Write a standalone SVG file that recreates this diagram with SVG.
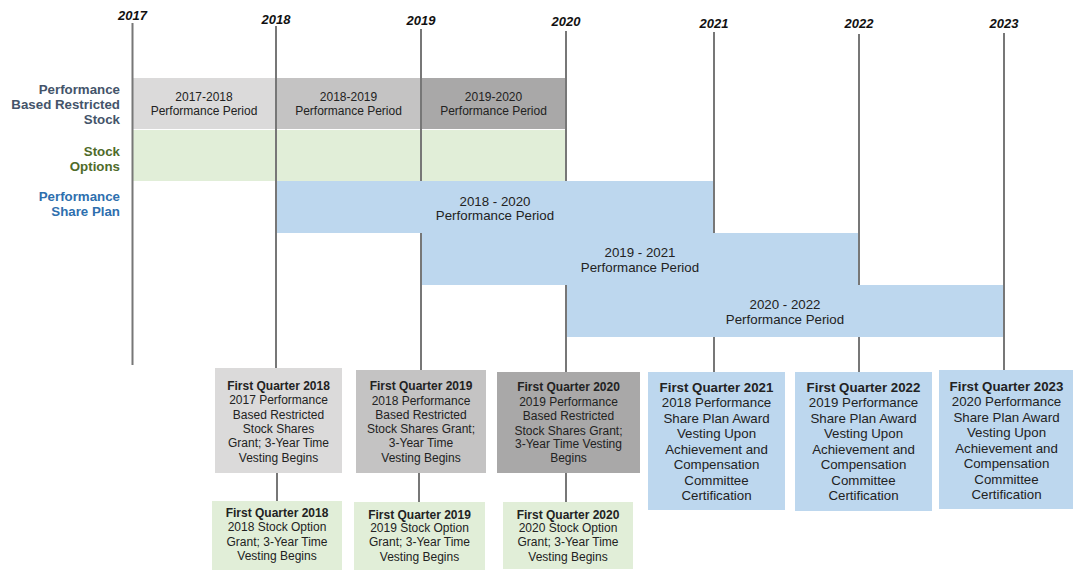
<svg xmlns="http://www.w3.org/2000/svg" width="1073" height="572" viewBox="0 0 1073 572">
<style>
text{font-family:"Liberation Sans",Arial,sans-serif;fill:#222;}
.yr{font-size:13px;font-weight:bold;font-style:italic;text-anchor:middle;fill:#111;}
.lbl{font-size:13.3px;font-weight:bold;text-anchor:end;}
.bar{font-size:12px;text-anchor:middle;}
.bbar{font-size:13.3px;text-anchor:middle;}
.box{font-size:12px;text-anchor:middle;}
.bbox{font-size:13.3px;text-anchor:middle;}
.b{font-weight:bold;}
.g1{fill:#dbdada;}
.g2{fill:#c4c3c3;}
.g3{fill:#a9a8a8;}
.gr{fill:#e1eed8;}
.bl{fill:#bdd7ee;}
.ln{stroke:#777;stroke-width:2;fill:none;}
</style>

<g id="years">
<text class="yr" x="132.5" y="20">2017</text>
<text class="yr" x="276" y="24">2018</text>
<text class="yr" x="421" y="25">2019</text>
<text class="yr" x="566" y="25.5">2020</text>
<text class="yr" x="714" y="27.5">2021</text>
<text class="yr" x="859" y="27.5">2022</text>
<text class="yr" x="1004" y="27.5">2023</text>
</g>

<g id="row-labels">
<text class="lbl" x="120" y="94" style="fill:#44546a">Performance</text>
<text class="lbl" x="120" y="109" style="fill:#44546a">Based Restricted</text>
<text class="lbl" x="120" y="124" style="fill:#44546a">Stock</text>
<text class="lbl" x="120" y="155.5" style="fill:#4f6b2a">Stock</text>
<text class="lbl" x="120" y="170.5" style="fill:#4f6b2a">Options</text>
<text class="lbl" x="120" y="201" style="fill:#2e6fae">Performance</text>
<text class="lbl" x="120" y="216" style="fill:#2e6fae">Share Plan</text>
</g>

<g id="bar-2017-2018">
<rect class="g1" x="132" y="78" width="144" height="51"/>
<text class="bar" x="204" y="101">2017-2018</text>
<text class="bar" x="204" y="114.5">Performance Period</text>
</g>
<g id="bar-2018-2019">
<rect class="g2" x="276" y="78" width="145" height="51"/>
<text class="bar" x="348.5" y="101">2018-2019</text>
<text class="bar" x="348.5" y="114.5">Performance Period</text>
</g>
<g id="bar-2019-2020">
<rect class="g3" x="421" y="78" width="145" height="51"/>
<text class="bar" x="493.5" y="101">2019-2020</text>
<text class="bar" x="493.5" y="114.5">Performance Period</text>
</g>
<g id="bar-stock-options">
<rect class="gr" x="132" y="130" width="434" height="51"/>
</g>

<g id="connectors">
<line class="ln" x1="132.5" y1="23" x2="132.5" y2="365"/>
<line class="ln" x1="276" y1="26" x2="276" y2="368"/>
<line class="ln" x1="421" y1="29" x2="421" y2="370"/>
<line class="ln" x1="566" y1="31" x2="566" y2="372"/>
<line class="ln" x1="714" y1="32" x2="714" y2="372"/>
<line class="ln" x1="859" y1="34" x2="859" y2="372"/>
<line class="ln" x1="1004" y1="33" x2="1004" y2="370"/>
<line class="ln" x1="277" y1="473" x2="277" y2="501"/>
<line class="ln" x1="419" y1="473" x2="419" y2="502"/>
<line class="ln" x1="566" y1="472" x2="566" y2="502"/>
</g>

<g id="bar-psp-2018-2020">
<rect class="bl" x="277" y="181" width="436" height="52"/>
<text class="bbar" x="495" y="205.5">2018 - 2020</text>
<text class="bbar" x="495" y="220">Performance Period</text>
</g>
<g id="bar-psp-2019-2021">
<rect class="bl" x="422" y="233" width="436" height="52"/>
<text class="bbar" x="640" y="257">2019 - 2021</text>
<text class="bbar" x="640" y="272">Performance Period</text>
</g>
<g id="bar-psp-2020-2022">
<rect class="bl" x="567" y="285" width="436" height="52"/>
<text class="bbar" x="785" y="309">2020 - 2022</text>
<text class="bbar" x="785" y="324">Performance Period</text>
</g>

<g id="box-pbrs-2018">
<rect class="g1" x="215" y="368" width="127" height="105"/>
<text class="box" x="278.5" y="389.5"><tspan class="b">First Quarter 2018</tspan><tspan x="278.5" y="404">2017 Performance</tspan><tspan x="278.5" y="418.5">Based Restricted</tspan><tspan x="278.5" y="433">Stock Shares</tspan><tspan x="278.5" y="447">Grant; 3-Year Time</tspan><tspan x="278.5" y="461.5">Vesting Begins</tspan></text>
</g>
<g id="box-pbrs-2019">
<rect class="g2" x="356" y="370" width="130" height="103"/>
<text class="box" x="421" y="390"><tspan class="b">First Quarter 2019</tspan><tspan x="421" y="404.5">2018 Performance</tspan><tspan x="421" y="418.5">Based Restricted</tspan><tspan x="421" y="433">Stock Shares Grant;</tspan><tspan x="421" y="447">3-Year Time</tspan><tspan x="421" y="461.5">Vesting Begins</tspan></text>
</g>
<g id="box-pbrs-2020">
<rect class="g3" x="497" y="372" width="143" height="101"/>
<text class="box" x="568.5" y="391"><tspan class="b">First Quarter 2020</tspan><tspan x="568.5" y="406">2019 Performance</tspan><tspan x="568.5" y="420">Based Restricted</tspan><tspan x="568.5" y="434.5">Stock Shares Grant;</tspan><tspan x="568.5" y="448">3-Year Time Vesting</tspan><tspan x="568.5" y="462">Begins</tspan></text>
</g>

<g id="box-psp-2021">
<rect class="bl" x="648" y="372" width="137" height="138"/>
<text class="bbox" x="716.5" y="391.5"><tspan class="b">First Quarter 2021</tspan><tspan x="716.5" y="407">2018 Performance</tspan><tspan x="716.5" y="422.5">Share Plan Award</tspan><tspan x="716.5" y="438">Vesting Upon</tspan><tspan x="716.5" y="453.5">Achievement and</tspan><tspan x="716.5" y="469">Compensation</tspan><tspan x="716.5" y="484.5">Committee</tspan><tspan x="716.5" y="500">Certification</tspan></text>
</g>
<g id="box-psp-2022">
<rect class="bl" x="795" y="372" width="137" height="139"/>
<text class="bbox" x="863.5" y="391.5"><tspan class="b">First Quarter 2022</tspan><tspan x="863.5" y="407">2019 Performance</tspan><tspan x="863.5" y="422.5">Share Plan Award</tspan><tspan x="863.5" y="438">Vesting Upon</tspan><tspan x="863.5" y="453.5">Achievement and</tspan><tspan x="863.5" y="469">Compensation</tspan><tspan x="863.5" y="484.5">Committee</tspan><tspan x="863.5" y="500">Certification</tspan></text>
</g>
<g id="box-psp-2023">
<rect class="bl" x="939" y="370" width="134" height="139"/>
<text class="bbox" x="1006.5" y="390.5"><tspan class="b">First Quarter 2023</tspan><tspan x="1006.5" y="406">2020 Performance</tspan><tspan x="1006.5" y="421.5">Share Plan Award</tspan><tspan x="1006.5" y="437">Vesting Upon</tspan><tspan x="1006.5" y="452.5">Achievement and</tspan><tspan x="1006.5" y="468">Compensation</tspan><tspan x="1006.5" y="483.5">Committee</tspan><tspan x="1006.5" y="499">Certification</tspan></text>
</g>

<g id="box-so-2018">
<rect class="gr" x="212" y="501" width="130" height="69"/>
<text class="box" x="277" y="517"><tspan class="b">First Quarter 2018</tspan><tspan x="277" y="531">2018 Stock Option</tspan><tspan x="277" y="545.5">Grant; 3-Year Time</tspan><tspan x="277" y="559.5">Vesting Begins</tspan></text>
</g>
<g id="box-so-2019">
<rect class="gr" x="354" y="502" width="131" height="68"/>
<text class="box" x="419.5" y="518.5"><tspan class="b">First Quarter 2019</tspan><tspan x="419.5" y="532">2019 Stock Option</tspan><tspan x="419.5" y="546">Grant; 3-Year Time</tspan><tspan x="419.5" y="560.5">Vesting Begins</tspan></text>
</g>
<g id="box-so-2020">
<rect class="gr" x="503" y="502" width="130" height="67"/>
<text class="box" x="568" y="518.5"><tspan class="b">First Quarter 2020</tspan><tspan x="568" y="532">2020 Stock Option</tspan><tspan x="568" y="546">Grant; 3-Year Time</tspan><tspan x="568" y="560.5">Vesting Begins</tspan></text>
</g>
</svg>
